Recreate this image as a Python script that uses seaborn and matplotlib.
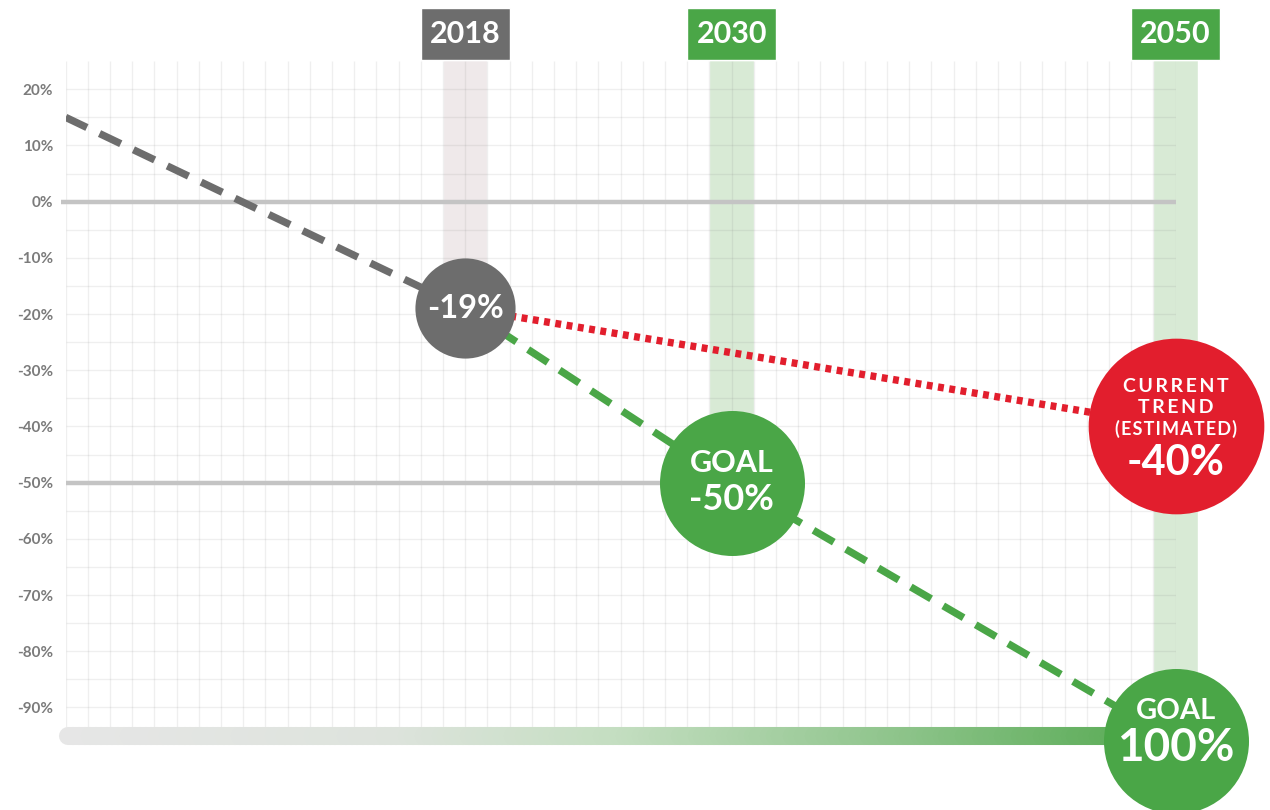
import numpy as np
import matplotlib
matplotlib.use("Agg")
import matplotlib.pyplot as plt
from matplotlib.colors import LinearSegmentedColormap
from matplotlib.collections import LineCollection
import seaborn as sns

# emissions vs. baseline (%)
hist_years = [2000, 2018]
hist_values = [15, -19]
goal_years = [2018, 2030, 2050]
goal_values = [-19, -50, -96]
trend_years = [2018, 2050]
trend_values = [-19, -40]

milestone_years = [2018, 2030, 2050]
milestone_labels = ["2018", "2030", "2050"]
band_bottoms = [-12, -45, -88]

ytick_values = [20, 10, 0, -10, -20, -30, -40, -50, -60, -70, -80, -90]
ytick_labels = ["20%", "10%", "0%", "-10%", "-20%", "-30%", "-40%",
                "-50%", "-60%", "-70%", "-80%", "-90%"]

grid_years = list(range(2000, 2051))
grid_levels = list(range(-90, 25, 5))

GREY = "#6d6d6d"
GREEN = "#4aa647"
RED = "#e21e2d"

sns.set_theme(style="white")
plt.rcParams['font.family'] = ['Lato', 'DejaVu Sans']

fig = plt.figure(figsize=(12.7, 8.1), dpi=100)
ax = fig.add_axes([0.0517, 0.0919, 0.874, 0.8326])
ax.set_xlim(2000, 2050)
ax.set_ylim(-95, 25)

# light columns behind the milestone years
ax.bar(milestone_years, [25.2 - b for b in band_bottoms], bottom=band_bottoms, width=2,
       color=["#efe9ea", "#d8ead5", "#d8ead5"], zorder=0, clip_on=False)

# year headers sit on top of the columns
ax.bar(milestone_years, 9.3, bottom=25.2, width=4, color=[GREY, GREEN, GREEN],
       zorder=4, clip_on=False)
for yr, lab in zip(milestone_years, milestone_labels):
    ax.text(yr, 29.9, lab, ha="center", va="center", color="white", fontsize=22,
            fontweight="bold", zorder=5, clip_on=False)

# grid
grid_col = (0.45, 0.45, 0.45, 0.11)
ax.vlines(grid_years, -93.5, 25, color=grid_col, lw=1, zorder=1)
ax.hlines(grid_levels, 2000, 2050, color=grid_col, lw=1, zorder=1)
ax.hlines(0, 1999.8, 2050, color="#c4c4c4", lw=3.2, zorder=2, clip_on=False)
ax.hlines(-50, 2000, 2030, color="#c4c4c4", lw=3.2, zorder=2)

# gradient bar along the bottom
cmap = LinearSegmentedColormap.from_list(
    "bar", [(0, "#e6e6e6"), (0.3, "#dde3dc"), (0.5, "#c4dec1"), (0.75, "#90c58d"), (1, "#55a951")])
xs = np.linspace(2000.1, 2050, 200)
segs = [[(xs[i], -95), (xs[i + 1], -95)] for i in range(len(xs) - 1)]
lc = LineCollection(segs, colors=cmap(np.linspace(0, 1, len(segs))), linewidths=13,
                    capstyle="round", zorder=2, clip_on=False)
ax.add_collection(lc)

# lines
sns.lineplot(x=hist_years, y=hist_values, ax=ax, color=GREY, linewidth=5.3,
             linestyle=(0, (3.2, 1.9)), zorder=3)
sns.lineplot(x=goal_years, y=goal_values, ax=ax, color=GREEN, linewidth=5.3,
             linestyle=(0, (3.2, 1.9)), zorder=3, clip_on=False)
sns.lineplot(x=trend_years, y=trend_values, ax=ax, color=RED, linewidth=5.3,
             linestyle=(0, (0.8, 0.75)), zorder=3)

# circles
sns.scatterplot(x=hist_years[-1:], y=hist_values[-1:], s=5200, color=GREY,
                linewidth=0, ax=ax, zorder=5, clip_on=False)
sns.scatterplot(x=goal_years[1:], y=goal_values[1:], s=10900, color=GREEN,
                linewidth=0, ax=ax, zorder=5, clip_on=False)
sns.scatterplot(x=trend_years[-1:], y=trend_values[-1:], s=16000, color=RED,
                linewidth=0, ax=ax, zorder=5, clip_on=False)

def label(x, y, text, dy, size):
    ax.annotate(text, xy=(x, y), xytext=(0, dy), textcoords="offset points",
                ha="center", va="center", color="white", fontsize=size,
                fontweight="bold", zorder=6, annotation_clip=False)

label(hist_years[-1], hist_values[-1], "-19%", 0, 23.5)
label(goal_years[1], goal_values[1], "GOAL", 14, 22)
label(goal_years[1], goal_values[1], "-50%", -12, 26)
label(trend_years[-1], trend_values[-1], "\u2009".join("CURRENT"), 29, 14)
label(trend_years[-1], trend_values[-1], "\u2009".join("TREND"), 14, 14)
label(trend_years[-1], trend_values[-1], "\u200a".join("(ESTIMATED)"), -1.5, 13)
label(trend_years[-1], trend_values[-1], "-40%", -26, 30)
label(goal_years[-1], goal_values[-1], "GOAL", 22, 21)
label(goal_years[-1], goal_values[-1], "100%", -5, 33)

ax.set_xticks([])
ax.set_yticks(ytick_values, labels=ytick_labels)
ax.tick_params(axis="y", length=0, pad=9, labelsize=11, labelcolor="#7b7b7b")
for t in ax.get_yticklabels():
    t.set_fontweight("bold")
ax.set_xlabel("")
ax.set_ylabel("")
sns.despine(ax=ax, left=True, bottom=True)

fig.savefig("out.png", dpi=100)
